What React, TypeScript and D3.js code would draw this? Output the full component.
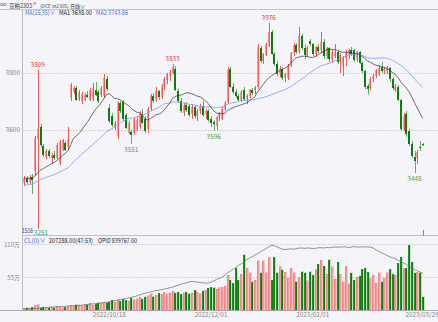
import React from "react";
import * as d3 from "d3";

const W = 438;
const H = 322;

// daily candles, [open, high, low, close]
const ohlc: [number, number, number, number][] = [
  [3415, 3440, 3405, 3432], [3432, 3440, 3410, 3418], [3418, 3442, 3412, 3436], [3436, 3445, 3375, 3425],
  [3455, 3580, 3440, 3572], [3570, 3809, 3251, 3605], [3610, 3620, 3540, 3548], [3545, 3552, 3505, 3512],
  [3505, 3535, 3498, 3528], [3528, 3532, 3500, 3508], [3500, 3520, 3482, 3512], [3512, 3525, 3495, 3502],
  [3502, 3555, 3498, 3548], [3485, 3565, 3478, 3558], [3532, 3570, 3525, 3565], [3555, 3560, 3525, 3530],
  [3540, 3612, 3535, 3565], [3712, 3765, 3700, 3758], [3732, 3755, 3725, 3748], [3746, 3755, 3700, 3705],
  [3706, 3740, 3700, 3734], [3700, 3735, 3690, 3728], [3706, 3730, 3700, 3722], [3722, 3738, 3712, 3716],
  [3706, 3748, 3700, 3740], [3708, 3765, 3702, 3746], [3742, 3770, 3718, 3722], [3732, 3740, 3695, 3700],
  [3722, 3755, 3715, 3746], [3718, 3795, 3712, 3782], [3780, 3788, 3738, 3745], [3678, 3690, 3625, 3632],
  [3650, 3660, 3610, 3616], [3608, 3632, 3600, 3626], [3578, 3700, 3570, 3694], [3694, 3702, 3660, 3668],
  [3698, 3706, 3632, 3638], [3652, 3658, 3602, 3608], [3590, 3632, 3585, 3626], [3594, 3600, 3551, 3583],
  [3588, 3642, 3582, 3638], [3602, 3650, 3598, 3636], [3610, 3668, 3605, 3660], [3655, 3672, 3620, 3626],
  [3640, 3650, 3590, 3596], [3605, 3680, 3590, 3675], [3672, 3725, 3665, 3718], [3718, 3730, 3695, 3702],
  [3710, 3750, 3698, 3738], [3736, 3742, 3706, 3715], [3716, 3760, 3710, 3752], [3750, 3785, 3740, 3778],
  [3776, 3800, 3762, 3795], [3790, 3812, 3772, 3805], [3800, 3833, 3795, 3822], [3815, 3825, 3738, 3742],
  [3738, 3745, 3695, 3700], [3702, 3712, 3658, 3665], [3660, 3695, 3650, 3688], [3688, 3698, 3662, 3670],
  [3685, 3692, 3645, 3652], [3655, 3690, 3640, 3682], [3680, 3688, 3640, 3648], [3648, 3672, 3630, 3665],
  [3665, 3690, 3655, 3685], [3685, 3700, 3645, 3652], [3655, 3675, 3640, 3668], [3665, 3672, 3628, 3635],
  [3640, 3650, 3610, 3625], [3628, 3635, 3596, 3620], [3615, 3650, 3600, 3645], [3645, 3662, 3630, 3655],
  [3640, 3680, 3635, 3675], [3675, 3700, 3665, 3695], [3695, 3820, 3690, 3812], [3815, 3822, 3748, 3752],
  [3752, 3765, 3728, 3735], [3735, 3745, 3712, 3718], [3718, 3725, 3700, 3705], [3705, 3740, 3698, 3732],
  [3740, 3750, 3700, 3708], [3708, 3725, 3690, 3720], [3720, 3745, 3712, 3740], [3740, 3748, 3722, 3730],
  [3740, 3755, 3725, 3750], [3752, 3900, 3745, 3892], [3888, 3895, 3835, 3842], [3842, 3870, 3830, 3865],
  [3862, 3905, 3858, 3900], [3895, 3976, 3890, 3945], [3945, 3950, 3862, 3868], [3866, 3872, 3825, 3830],
  [3830, 3842, 3790, 3798], [3798, 3825, 3785, 3815], [3815, 3822, 3776, 3782], [3782, 3800, 3770, 3795],
  [3782, 3830, 3775, 3825], [3825, 3875, 3820, 3870], [3870, 3905, 3860, 3898], [3898, 3905, 3868, 3872],
  [3872, 3960, 3865, 3930], [3930, 3938, 3882, 3888], [3888, 3900, 3850, 3862], [3860, 3895, 3855, 3888],
  [3912, 3920, 3895, 3900], [3900, 3905, 3860, 3868], [3868, 3895, 3855, 3890], [3890, 3902, 3870, 3878],
  [3880, 3944, 3870, 3910], [3910, 3918, 3850, 3858], [3858, 3892, 3850, 3886], [3886, 3892, 3840, 3848],
  [3848, 3880, 3835, 3872], [3860, 3902, 3852, 3875], [3875, 3880, 3830, 3838], [3838, 3870, 3800, 3862],
  [3825, 3860, 3790, 3852], [3852, 3880, 3825, 3872], [3862, 3885, 3850, 3880], [3880, 3890, 3858, 3865],
  [3880, 3885, 3840, 3845], [3845, 3878, 3838, 3872], [3872, 3878, 3830, 3836], [3836, 3842, 3800, 3808],
  [3808, 3812, 3745, 3752], [3755, 3762, 3722, 3745], [3748, 3785, 3742, 3778], [3778, 3795, 3770, 3790],
  [3790, 3815, 3782, 3810], [3795, 3825, 3790, 3818], [3820, 3840, 3800, 3808], [3808, 3822, 3796, 3815],
  [3808, 3825, 3795, 3818], [3818, 3822, 3770, 3778], [3778, 3785, 3740, 3748], [3740, 3762, 3732, 3755],
  [3752, 3758, 3700, 3705], [3705, 3710, 3598, 3605], [3605, 3660, 3595, 3650], [3655, 3665, 3575, 3585],
  [3595, 3602, 3545, 3550], [3552, 3560, 3500, 3508], [3505, 3528, 3448, 3490], [3500, 3530, 3480, 3522],
  [3540, 3560, 3528, 3536], [3551, 3556, 3545, 3550],
];

// closes before the first visible candle (feed the moving averages)
const priorCloses = [
  3380, 3392, 3385, 3378, 3390, 3398, 3386, 3382, 3395, 3390, 3384, 3392, 3396, 3388, 3380, 3390, 3394,
  3386, 3392, 3386, 3422, 3435, 3428, 3440, 3432, 3425, 3436, 3430, 3428, 3438, 3426, 3434, 3430, 3426,
];

// volume, 万手
const volumes = [
  3, 4, 3, 5, 8, 9, 4, 5, 3, 4,
  5, 4, 6, 5, 4, 5, 6, 8, 7, 9,
  8, 7, 10, 9, 11, 8, 10, 12, 11, 13,
  12, 14, 16, 13, 17, 15, 18, 16, 15, 20,
  17, 19, 21, 18, 22, 24, 27, 22, 25, 28,
  26, 30, 27, 29, 31, 28, 30, 26, 29, 30,
  27, 28, 33, 30, 27, 32, 33, 36, 38, 37,
  35, 37, 38, 40, 58, 50, 45, 70, 50, 60,
  92, 70, 62, 47, 50, 82, 62, 82, 62, 88,
  50, 88, 62, 72, 67, 63, 53, 70, 62, 47,
  55, 64, 62, 49, 64, 58, 67, 76, 83, 73,
  60, 84, 72, 51, 80, 60, 47, 73, 44, 62,
  50, 55, 57, 68, 70, 63, 52, 58, 45, 62,
  47, 53, 62, 68, 60, 58, 78, 88, 70, 70,
  108, 80, 62, 63, 62, 22,
];

// open interest, 万手
const openInterest = [
  2.0, 2.3, 2.8, 3.2, 3.5, 4.0, 4.4, 4.9, 5.3, 5.9,
  6.8, 7.1, 7.4, 7.8, 8.0, 8.5, 9.1, 9.4, 9.8, 10.2,
  10.6, 11.0, 11.8, 12.5, 13.2, 13.9, 14.5, 15.3, 16.1, 16.8,
  17.5, 18.2, 19.5, 20.8, 22.1, 23.5, 24.8, 26.2, 27.5, 28.8,
  30.0, 32.1, 34.0, 36.2, 38.1, 40.0, 41.0, 42.5, 44.0, 45.0,
  46.2, 47.5, 49.0, 50.5, 52.0, 54.1, 56.0, 58.2, 60.5, 62.0,
  63.5, 64.8, 64.2, 63.5, 62.5, 61.8, 61.0, 61.4, 63.2, 66.0,
  69.5, 72.0, 74.0, 79.0, 84.5, 88.0, 92.5, 97.0, 101.5, 105.0,
  110.0, 114.5, 118.0, 121.5, 125.0, 128.5, 132.0, 136.0, 139.5, 143.5,
  147.0, 146.0, 143.5, 140.5, 138.0, 137.5, 138.5, 139.0, 138.0, 139.5,
  140.5, 141.0, 140.0, 141.0, 140.5, 139.5, 140.0, 141.5, 141.5, 141.0,
  142.0, 141.5, 142.5, 143.0, 142.5, 143.5, 143.0, 143.5, 142.0, 143.0,
  144.0, 143.5, 143.0, 143.5, 143.5, 143.0, 143.0, 140.5, 137.0, 133.5,
  130.0, 127.0, 124.0, 121.0, 118.5, 116.0, 113.0, 110.0, 107.0, 103.5,
  99.0, 95.5, 92.0, 89.0, 86.5, 83.98,
];

const tickIndex = [31, 68, 105, 145];
const tickLabels = ["2022/10/18", "2022/12/01", "2023/02/01", "2023/03/29"];
const priceTicks = [3600, 3800];
const volTicks = [55, 110];
const highMarks = [5, 54, 89];
const lowMarks = [5, 39, 69, 142];

const UP = "#f39c9c";
const UP_LINE = "#ec5a5a";
const DOWN = "#0e7d10";
const DOWN_LINE = "#5fb35f";
const BLUE = "#4a6fd8";
const FONT = "'Noto Sans CJK SC', 'DejaVu Sans', sans-serif";

function movingAverage(n: number) {
  const all = priorCloses.concat(ohlc.map(d => d[3]));
  return ohlc.map((_, i) => {
    const end = priorCloses.length + i + 1;
    return d3.mean(all.slice(Math.max(0, end - n), end)) as number;
  });
}

export default function App() {
  const left = 22;
  const x = d3.scaleLinear().domain([0, ohlc.length - 1]).range([24, 422.75]);
  const y = d3.scaleLinear().domain([3228, 4021]).range([236, 10]);
  const vy = d3.scaleLinear().domain([0, 110]).range([310, 244]);
  const oy = d3.scaleLinear().domain([0, 150]).range([310, 244]);

  const ma1 = movingAverage(15);
  const ma2 = movingAverage(35);
  const maLine = d3.line<number>().x((_, i) => x(i)).y(d => y(d));
  const oiLine = d3.line<number>().x((_, i) => x(i)).y(d => oy(d));

  const px = (i: number) => Math.round(x(i));

  return (
    <svg width={W} height={H} style={{ position: "absolute", left: 0, top: 0 }} fontFamily={FONT}>
      <rect width={W} height={H} fill="#f4f4f9" />

      {/* header */}
      <text x={0} y={7} fontSize={6.5} fill="#666">∞</text>
      <text x={9} y={7.5} fontSize={5.5} fill="#333">豆粕2305</text>
      <text x={33} y={5} fontSize={4} fill="#e03030">M</text>
      <text x={40} y={7.5} fontSize={4.8} fill="#444">(DCE m2305)</text>
      <text x={70} y={7.5} fontSize={5} fill="#333">日线∨</text>
      <line x1={0} x2={W} y1={9.5} y2={9.5} stroke="#c4c4cc" />

      {/* frames */}
      <line x1={left + 0.5} x2={left + 0.5} y1={10} y2={310} stroke="#b8b8c0" />
      <line x1={left} x2={W} y1={235.5} y2={235.5} stroke="#c0c0c8" />
      <line x1={0} x2={W} y1={310.5} y2={310.5} stroke="#b0b0b8" />

      {/* price grid */}
      {priceTicks.map(t => (
        <g key={t}>
          <line x1={left} x2={W} y1={Math.round(y(t)) + 0.5} y2={Math.round(y(t)) + 0.5}
            stroke="#c8c8d2" strokeDasharray="1.5,1.5" />
          <text x={20} y={y(t) + 2.5} fontSize={6.5} fill="#888" textAnchor="end">{t}</text>
        </g>
      ))}

      {/* volume grid */}
      {volTicks.map(t => (
        <g key={t}>
          <line x1={left} x2={W} y1={Math.round(vy(t)) + 0.5} y2={Math.round(vy(t)) + 0.5}
            stroke="#c8c8d2" strokeDasharray="1.5,1.5" />
          <text x={20} y={vy(t) + 2.5} fontSize={6} fill="#888" textAnchor="end">{t}万</text>
        </g>
      ))}

      {/* candles */}
      <g shapeRendering="crispEdges">
        {ohlc.map(([o, h, l, c], i) => {
          const up = c > o;
          const top = y(Math.max(o, c));
          const bh = Math.max(1, Math.abs(y(o) - y(c)));
          return (
            <g key={i}>
              <line x1={px(i) + 0.5} x2={px(i) + 0.5} y1={y(h)} y2={y(l)} stroke={up ? UP_LINE : DOWN_LINE} />
              <rect x={px(i) - 1} y={top} width={2} height={bh} fill={up ? UP : DOWN} />
              {up && <line x1={px(i) + 0.5} x2={px(i) + 0.5} y1={top} y2={top + bh} stroke={UP_LINE} />}
            </g>
          );
        })}
      </g>

      {/* moving averages */}
      <path d={maLine(ma2) ?? ""} fill="none" stroke="#7c9cf0" strokeWidth={0.8} />
      <path d={maLine(ma1) ?? ""} fill="none" stroke="#333" strokeWidth={0.7} />

      {/* high / low marks */}
      {highMarks.map(i => (
        <text key={"h" + i} x={x(i)} y={y(ohlc[i][1]) - 3} fontSize={6.5} fill="#e04545" textAnchor="middle">
          {ohlc[i][1]}
        </text>
      ))}
      {lowMarks.map(i => (
        <text key={"l" + i} x={Math.max(x(i), 41)} y={Math.min(235, y(ohlc[i][2]) + 8)} fontSize={6.5}
          fill="#4e9e5e" textAnchor="middle">
          {ohlc[i][2]}
        </text>
      ))}
      <text x={22} y={232.5} fontSize={6} fill="#2b3f8a" textLength={11} lengthAdjust="spacingAndGlyphs">1516</text>
      <line x1={px(145) + 0.5} x2={px(145) + 0.5} y1={230} y2={236} stroke="#888" />

      {/* legend */}
      <text x={25} y={15} fontSize={6.3} fill={BLUE} textLength={30} lengthAdjust="spacingAndGlyphs">MA(15,35)∨</text>
      <text x={59} y={15} fontSize={6.3} fill="#222" textLength={33} lengthAdjust="spacingAndGlyphs">MA1 3638.00</text>
      <text x={96} y={15} fontSize={6.3} fill={BLUE} textLength={32} lengthAdjust="spacingAndGlyphs">MA2 3743.86</text>

      {/* volume bars */}
      <g shapeRendering="crispEdges">
        {volumes.map((v, i) => {
          const up = ohlc[i][3] > ohlc[i][0];
          return (
            <rect key={i} x={px(i) - 1} y={vy(v)} width={2} height={vy(0) - vy(v)}
              fill={up ? UP : DOWN} stroke={up ? UP_LINE : DOWN_LINE} strokeWidth={0.3} />
          );
        })}
      </g>
      <path d={oiLine(openInterest) ?? ""} fill="none" stroke="#6a6a6a" strokeWidth={0.7} />

      <text x={24} y={242.5} fontSize={6.3} fill={BLUE} textLength={22} lengthAdjust="spacingAndGlyphs">CL(0)∨</text>
      <text x={49} y={242.5} fontSize={6.3} fill="#222" textLength={44} lengthAdjust="spacingAndGlyphs">207288.00(47:53)</text>
      <text x={98} y={242.5} fontSize={6.3} fill="#222" textLength={39} lengthAdjust="spacingAndGlyphs">OPID 839767.00</text>

      {/* dates */}
      {tickIndex.map((i, k) => (
        <text key={i} x={Math.min(x(i), W - 16)} y={317} fontSize={6.3} fill="#888" textAnchor="middle">
          {tickLabels[k]}
        </text>
      ))}
    </svg>
  );
}
